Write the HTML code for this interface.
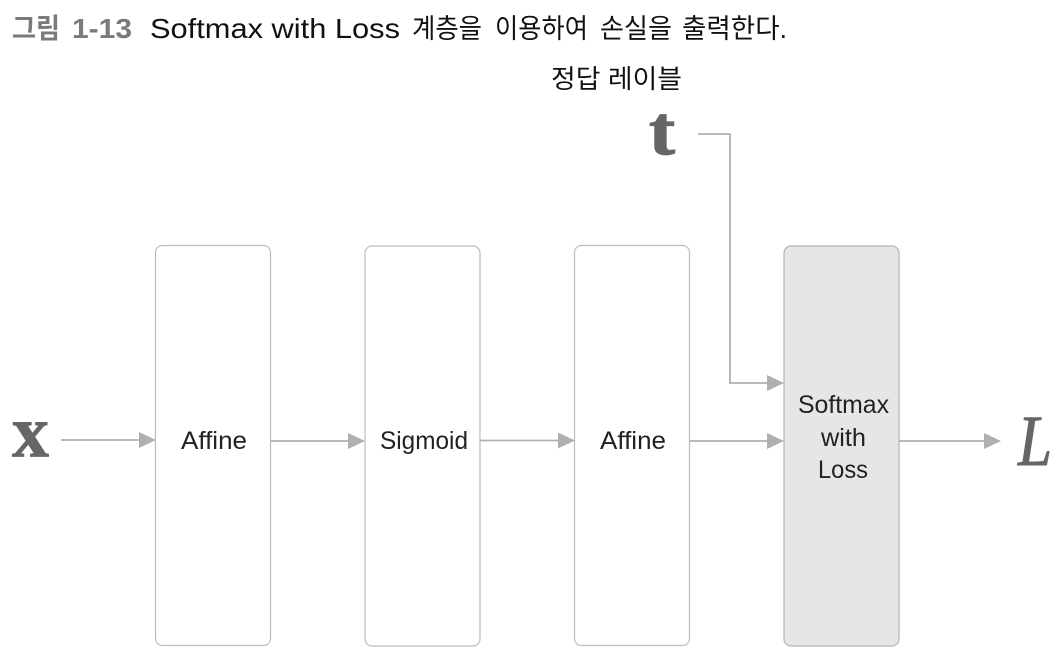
<!DOCTYPE html>
<html><head><meta charset="utf-8">
<style>
html,body{margin:0;padding:0;background:#fff}
svg{display:block}
text{font-family:"Liberation Sans","Noto Sans CJK KR",sans-serif}
.l{font-size:25px;fill:#222}
.t{font-size:27.500px;fill:#111}
.k{font-size:27px;fill:#111}
.g{font-size:28px;font-weight:bold;fill:#7a7a7a}
.m{font-family:"Liberation Serif","DejaVu Serif",serif;fill:#666}
</style></head><body>
<svg width="1062" height="658" viewBox="0 0 1062 658" xmlns="http://www.w3.org/2000/svg">
<text class="g" x="12" y="38" textLength="48" lengthAdjust="spacingAndGlyphs">그림</text>
<text class="g" x="72" y="38" textLength="60" lengthAdjust="spacingAndGlyphs">1-13</text>
<text class="t" x="150" y="38" textLength="250" lengthAdjust="spacingAndGlyphs">Softmax with Loss</text>
<text class="k" x="412" y="38" textLength="70" lengthAdjust="spacingAndGlyphs">계층을</text>
<text class="k" x="495" y="38" textLength="93" lengthAdjust="spacingAndGlyphs">이용하여</text>
<text class="k" x="600" y="38" textLength="72" lengthAdjust="spacingAndGlyphs">손실을</text>
<text class="k" x="682" y="38" textLength="105" lengthAdjust="spacingAndGlyphs">출력한다.</text>
<text x="551" y="88" font-size="26" fill="#111" textLength="131" lengthAdjust="spacingAndGlyphs">정답 레이블</text>

<g fill="#fff" stroke="#bdbdbd" stroke-width="1.200">
<rect x="155.500" y="245.500" width="115" height="400" rx="7"/>
<rect x="365" y="246" width="115" height="400" rx="7"/>
<rect x="574.500" y="245.500" width="115" height="400" rx="7"/>
<rect x="784" y="246" width="115" height="400" rx="7" fill="#e6e6e6" stroke="#b5b5b5"/>
</g>

<g stroke="#b0b0b0" stroke-width="1.800" fill="none">
<path d="M61 440H140"/>
<path d="M271 441H349"/>
<path d="M480 440.500H558"/>
<path d="M690 441H768"/>
<path d="M899 441H984"/>
<path d="M698 134H730V383H768"/>
</g>
<g fill="#b0b0b0">
<path d="M139 432L156 440L139 448Z"/>
<path d="M348 433L365 441L348 449Z"/>
<path d="M558 432.500L575 440.500L558 448.500Z"/>
<path d="M767 433L784 441L767 449Z"/>
<path d="M767 375L784 383L767 391Z"/>
<path d="M984 433L1001 441L984 449Z"/>
</g>

<text class="l" x="181" y="449" textLength="66" lengthAdjust="spacingAndGlyphs">Affine</text>
<text class="l" x="380" y="449" textLength="88" lengthAdjust="spacingAndGlyphs">Sigmoid</text>
<text class="l" x="600" y="449" textLength="66" lengthAdjust="spacingAndGlyphs">Affine</text>
<text class="l" x="798" y="413" textLength="91" lengthAdjust="spacingAndGlyphs">Softmax</text>
<text class="l" x="821" y="446" textLength="45" lengthAdjust="spacingAndGlyphs">with</text>
<text class="l" x="818" y="478" textLength="50" lengthAdjust="spacingAndGlyphs">Loss</text>

<text class="m" x="12" y="456.500" font-size="74" font-weight="bold" stroke="#666" stroke-width="0.800" textLength="37" lengthAdjust="spacingAndGlyphs">x</text>
<text class="m" x="649" y="154" font-size="70" font-weight="bold" stroke="#666" stroke-width="1.200" textLength="26" lengthAdjust="spacingAndGlyphs">t</text>
<text class="m" x="1018" y="465" font-size="72" font-style="italic" stroke="#666" stroke-width="1" textLength="34" lengthAdjust="spacingAndGlyphs">L</text>
</svg>
</body></html>
